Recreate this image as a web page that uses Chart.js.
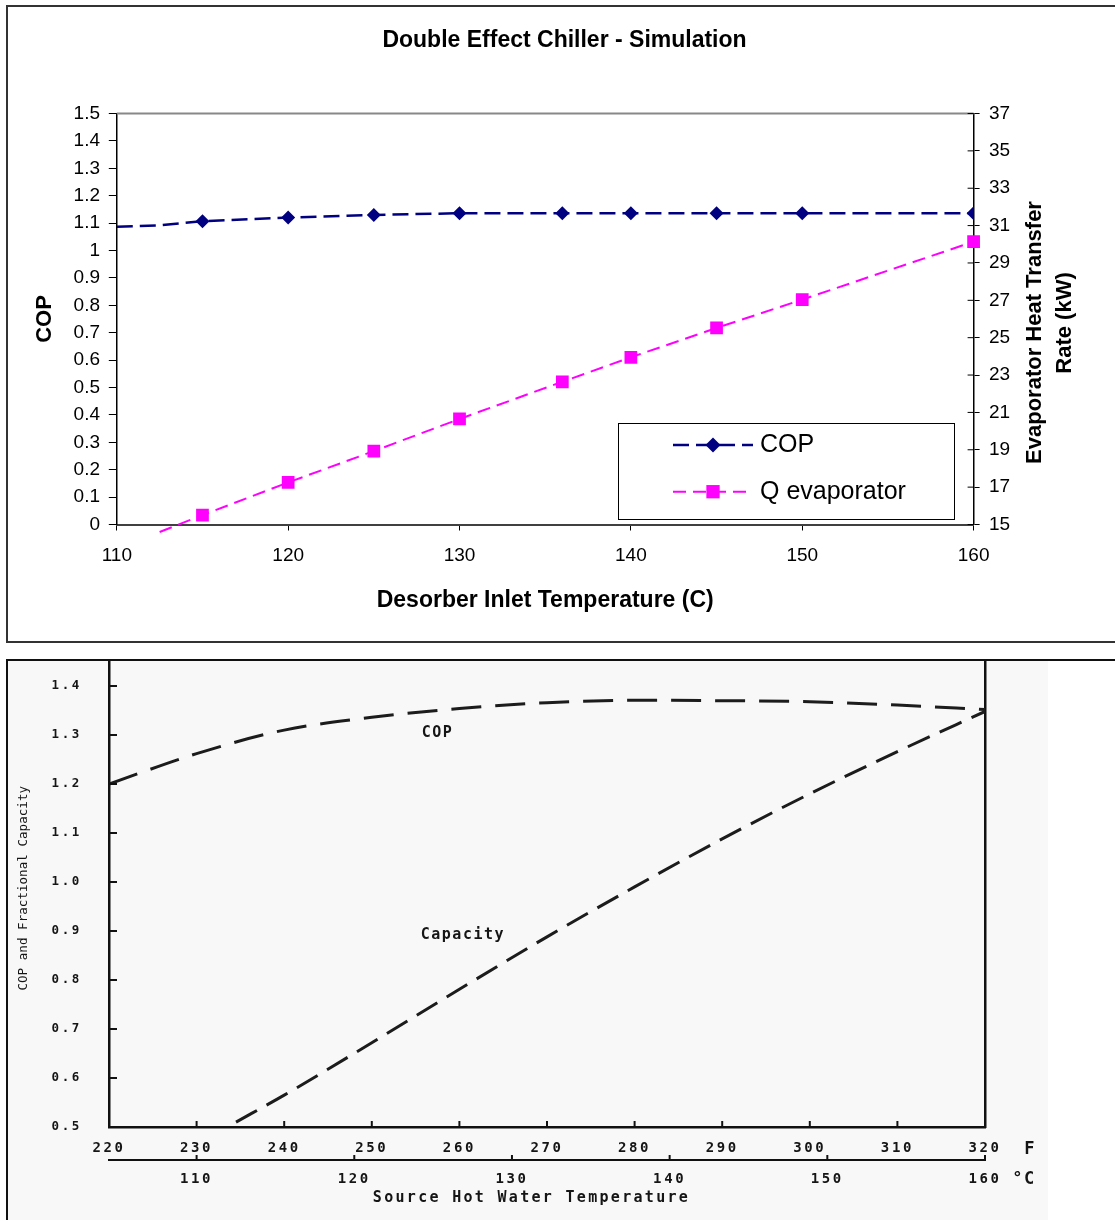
<!DOCTYPE html>
<html>
<head>
<meta charset="utf-8">
<title>Double Effect Chiller</title>
<script src="https://cdn.jsdelivr.net/npm/chart.js@4.4.1/dist/chart.umd.min.js"></script>
<style>
  html, body { margin:0; padding:0; background:#fff; }
  body { width:1115px; height:1220px; position:relative; overflow:hidden; }
  .frame { position:absolute; box-sizing:border-box; }
  #frameTop { left:6px; top:5px; width:1200px; height:638px; border:2px solid #333; }
  #frameBot { left:6px; top:659px; width:1200px; height:600px; border-left:2px solid #111; border-top:2px solid #111; }
  #scan { position:absolute; left:8px; top:661px; width:1040px; height:559px; background:#f8f8f8; }
  canvas { position:absolute; left:0; }
  #simChart { top:0; }
  #refChart { top:650px; }
</style>
</head>
<body>
<div class="frame" id="frameTop"></div>
<div id="scan"></div>
<div class="frame" id="frameBot"></div>
<canvas id="simChart" width="1129" height="650"></canvas>
<canvas id="refChart" width="1115" height="570"></canvas>
<script>
// ---- data: simulation chart (top) ----
const desorberTemp = [110, 112.5, 115, 120, 125, 130, 136, 140, 145, 150, 160];
const copSim       = [1.087, 1.092, 1.107, 1.12, 1.13, 1.136, 1.136, 1.136, 1.136, 1.136, 1.136];
const qEvap        = [null, 14.6, 15.5, 17.25, 18.93, 20.65, 22.64, 23.95, 25.52, 27.04, 30.14];
const tempTicks = [110, 120, 130, 140, 150, 160];
const copTicks  = [0, 0.1, 0.2, 0.3, 0.4, 0.5, 0.6, 0.7, 0.8, 0.9, 1, 1.1, 1.2, 1.3, 1.4, 1.5];
const qTicks    = [15, 17, 19, 21, 23, 25, 27, 29, 31, 33, 35, 37];
const markerStart = 115; // first simulated point that carries a marker

// ---- data: scanned reference chart (bottom) ----
const fahrenheit = [220, 230, 240, 250, 260, 270, 280, 290, 300, 310, 320];
const copRef     = [1.20, 1.262, 1.31, 1.336, 1.354, 1.366, 1.371, 1.370, 1.368, 1.361, 1.352];
const capacityF  = [234.5, 240, 250, 260, 270, 280, 290, 300, 310, 320];
const capacity   = [0.51, 0.565, 0.672, 0.781, 0.888, 0.99, 1.088, 1.18, 1.266, 1.348];
const fahrenheitTicks = [220, 230, 240, 250, 260, 270, 280, 290, 300, 310, 320];
const celsiusTicks    = [110, 120, 130, 140, 150, 160];
const copRefTicks     = [0.5, 0.6, 0.7, 0.8, 0.9, 1.0, 1.1, 1.2, 1.3, 1.4];

const SANS = "'Liberation Sans', Arial, sans-serif";
const MONO = "'DejaVu Sans Mono', monospace";

const pts = (xs, ys) => xs.map((x, i) => ({x, y: ys[i]}));
const useTicks = list => s => { s.ticks = list.map(v => ({value: v})); };
const hideEarly = r => c => (c.raw && c.raw.x < markerStart) ? 0 : r;

// small tick stubs drawn into the plot area (the library only draws outward)
const innerTicks = {
  id: 'innerTicks',
  afterDatasetsDraw(chart, args, o) {
    const ctx = chart.ctx;
    ctx.save();
    ctx.strokeStyle = o.color; ctx.lineWidth = o.width;
    (o.axes || []).forEach(a => {
      const s = chart.scales[a.id];
      s.ticks.forEach(t => {
        const p = s.getPixelForValue(t.value);
        ctx.beginPath();
        if (s.isHorizontal()) { ctx.moveTo(p, s.top); ctx.lineTo(p, s.top - a.len); }
        else if (s.position === 'left') { ctx.moveTo(s.right, p); ctx.lineTo(s.right + a.len, p); }
        else { ctx.moveTo(s.left, p); ctx.lineTo(s.left - a.len, p); }
        ctx.stroke();
      });
    });
    ctx.restore();
  }
};

const plotTop = {
  id: 'plotTop',
  beforeDatasetsDraw(chart, args, o) {
    const {ctx, chartArea: a} = chart;
    ctx.save();
    ctx.strokeStyle = o.color; ctx.lineWidth = o.width;
    ctx.beginPath(); ctx.moveTo(a.left, a.top); ctx.lineTo(a.right, a.top); ctx.stroke();
    ctx.restore();
  }
};

// right axis title reads bottom-to-top like the left one
const rightTitle = {
  id: 'rightTitle',
  afterDraw(chart, args, o) {
    const s = chart.scales[o.axis], a = chart.chartArea, ctx = chart.ctx;
    ctx.save();
    ctx.font = o.font; ctx.fillStyle = '#000';
    ctx.textAlign = 'center'; ctx.textBaseline = 'middle';
    o.lines.forEach((line, i) => {
      ctx.save();
      ctx.translate(s.left + o.dx[i], (a.top + a.bottom) / 2 + o.dy[i]);
      ctx.rotate(-Math.PI / 2);
      ctx.fillText(line, 0, 0);
      ctx.restore();
    });
    ctx.restore();
  }
};

function marker(ctx, style, r, x, y) {
  ctx.beginPath();
  if (style === 'rectRot') {
    ctx.moveTo(x, y - r); ctx.lineTo(x + r, y); ctx.lineTo(x, y + r); ctx.lineTo(x - r, y); ctx.closePath();
  } else {
    const h = r * Math.SQRT1_2;
    ctx.rect(x - h, y - h, 2 * h, 2 * h);
  }
  ctx.fill();
}

// boxed legend with dashed line + marker, excel style
const simLegend = {
  id: 'simLegend',
  afterDraw(chart, args, o) {
    const {ctx, chartArea: a} = chart;
    const x0 = a.right - o.right - o.width, y0 = a.bottom - o.bottom - o.height;
    ctx.save();
    ctx.fillStyle = '#fff'; ctx.fillRect(x0, y0, o.width, o.height);
    ctx.strokeStyle = '#000'; ctx.lineWidth = 1;
    ctx.strokeRect(Math.round(x0) + 0.5, Math.round(y0) + 0.5, o.width, o.height);
    chart.data.datasets.forEach((ds, i) => {
      const y = y0 + o.rowTop + i * o.rowGap;
      ctx.save();
      ctx.strokeStyle = ds.borderColor; ctx.lineWidth = ds.borderWidth;
      ctx.setLineDash(ds.borderDash);
      ctx.beginPath(); ctx.moveTo(x0 + o.lineFrom, y); ctx.lineTo(x0 + o.lineTo, y); ctx.stroke();
      ctx.fillStyle = ds.backgroundColor;
      marker(ctx, ds.pointStyle, o.radius[i], x0 + (o.lineFrom + o.lineTo) / 2, y);
      ctx.restore();
      ctx.fillStyle = '#000'; ctx.font = o.font;
      ctx.textAlign = 'left'; ctx.textBaseline = 'middle';
      ctx.fillText(ds.label, x0 + o.textX, y);
    });
    ctx.restore();
  }
};

new Chart(document.getElementById('simChart'), {
  type: 'line',
  data: {
    datasets: [
      { label: 'COP', data: pts(desorberTemp, copSim), yAxisID: 'y',
        borderColor: '#000080', backgroundColor: '#000080', borderWidth: 2.5, borderDash: [16, 7],
        pointStyle: 'rectRot', pointRadius: hideEarly(7), pointBorderWidth: 0, tension: 0 },
      { label: 'Q evaporator', data: pts(desorberTemp, qEvap), yAxisID: 'y2',
        borderColor: '#ff00ff', backgroundColor: '#ff00ff', borderWidth: 2, borderDash: [13, 7],
        pointStyle: 'rect', pointRadius: hideEarly(9), pointBorderWidth: 0, tension: 0,
        clip: {left: 12, top: 12, right: 12, bottom: 12} }
    ]
  },
  options: {
    responsive: false, animation: false, devicePixelRatio: 1,
    layout: { padding: 0 },
    plugins: {
      legend: { display: false },
      tooltip: { enabled: false },
      title: { display: true, text: 'Double Effect Chiller - Simulation', color: '#000',
               font: { family: SANS, size: 23, weight: 'bold' }, padding: { top: 26.5, bottom: 59.4 } },
      plotTop: { color: '#888', width: 2 },
      innerTicks: { color: '#000', width: 1, axes: [{ id: 'y2', len: 6 }] },
      rightTitle: { axis: 'y2', font: 'bold 22px ' + SANS,
                    lines: ['Evaporator Heat Transfer', 'Rate (kW)'], dx: [61.4, 91.4], dy: [13.5, 4] },
      simLegend: { right: 19.6, bottom: 5.2, width: 336, height: 96, rowTop: 21.7, rowGap: 46.7,
                   lineFrom: 55, lineTo: 135, textX: 142, radius: [7.5, 9.4], font: '25px ' + SANS }
    },
    scales: {
      x: {
        type: 'linear', min: 110, max: 160,
        afterBuildTicks: useTicks(tempTicks),
        afterFit: s => { s.height = 125.5; },
        ticks: { color: '#000', font: { family: SANS, size: 19 }, padding: 14.1, maxRotation: 0, callback: v => String(v) },
        grid: { drawOnChartArea: false, tickLength: 6, color: '#000', lineWidth: 1 },
        border: { color: '#404040', width: 2 },
        title: { display: true, text: 'Desorber Inlet Temperature (C)', color: '#000',
                 font: { family: SANS, size: 23, weight: 'bold' }, padding: { top: 0, bottom: 36 } }
      },
      y: {
        position: 'left', min: 0, max: 1.5,
        afterBuildTicks: useTicks(copTicks),
        afterFit: s => { s.width = 116.8; },
        ticks: { color: '#000', font: { family: SANS, size: 19 }, padding: 8.8, callback: v => String(Math.round(v * 10) / 10) },
        grid: { drawOnChartArea: false, tickLength: 8, color: '#000', lineWidth: 1 },
        border: { color: '#000', width: 1.5 },
        title: { display: true, text: 'COP', color: '#000',
                 font: { family: SANS, size: 22, weight: 'bold' }, padding: { top: 31.4, bottom: 0 } }
      },
      y2: {
        position: 'right', min: 15, max: 37,
        afterBuildTicks: useTicks(qTicks),
        afterFit: s => { s.width = 155.4; },
        ticks: { color: '#000', font: { family: SANS, size: 19 }, padding: 9.4, callback: v => String(v) },
        grid: { drawOnChartArea: false, tickLength: 6, color: '#000', lineWidth: 1 },
        border: { color: '#000', width: 1.5 }
      }
    }
  },
  plugins: [plotTop, innerTicks, rightTitle, simLegend]
});

// ---- bottom: scanned chart look-alike ----
const spacing = {
  id: 'spacing',
  beforeDraw(chart, args, o) { chart.ctx.letterSpacing = o.value; },
  afterDraw(chart) { chart.ctx.letterSpacing = '0px'; }
};

const scanText = {
  id: 'scanText',
  afterDraw(chart, args, o) {
    const ctx = chart.ctx, a = chart.chartArea, sx = chart.scales.xf, sy = chart.scales.y, sc = chart.scales.xc;
    ctx.save();
    ctx.fillStyle = '#151515';
    ctx.textAlign = 'center'; ctx.textBaseline = 'middle';
    ctx.letterSpacing = '1.5px';
    ctx.font = 'bold 15px ' + MONO;
    o.curveLabels.forEach(l => ctx.fillText(l.text, sx.getPixelForValue(l.at[0]), sy.getPixelForValue(l.at[1])));
    ctx.font = 'bold 17px ' + MONO;
    ctx.fillText('F', sx.right + 45, sx.top + 23);
    ctx.fillText('°C', sc.right + 39, sc.top + 20);
    ctx.font = 'bold 15px ' + MONO;
    ctx.letterSpacing = '2.3px';
    ctx.fillText(o.xTitle, (a.left + a.right) / 2 - 15.5, sc.bottom - 22);
    ctx.letterSpacing = '0px';
    ctx.font = '12.6px ' + MONO;
    ctx.save();
    ctx.translate(24, (a.top + a.bottom) / 2 - 6);
    ctx.rotate(-Math.PI / 2);
    ctx.fillText(o.yTitle, 0, 0);
    ctx.restore();
    ctx.restore();
  }
};

const monoTick = size => ({ family: MONO, size, weight: 'bold' });

new Chart(document.getElementById('refChart'), {
  type: 'line',
  data: {
    datasets: [
      { label: 'COP', data: pts(fahrenheit, copRef), xAxisID: 'xf', yAxisID: 'y',
        borderColor: '#1c1c1c', borderWidth: 3, borderDash: [30, 14], pointRadius: 0,
        cubicInterpolationMode: 'monotone' },
      { label: 'Capacity', data: pts(capacityF, capacity), xAxisID: 'xf', yAxisID: 'y',
        borderColor: '#1c1c1c', borderWidth: 3, borderDash: [24, 11], pointRadius: 0,
        cubicInterpolationMode: 'monotone' }
    ]
  },
  options: {
    responsive: false, animation: false, devicePixelRatio: 1,
    layout: { padding: { top: 11.5, left: 0, right: 0, bottom: 0 } },
    plugins: {
      legend: { display: false },
      tooltip: { enabled: false },
      spacing: { value: '2.6px' },
      innerTicks: { color: '#111', width: 2,
                    axes: [{ id: 'y', len: 8 }, { id: 'xf', len: 6 }, { id: 'xc', len: 5 }] },
      scanText: {
        curveLabels: [{ text: 'COP', at: [257.5, 1.304] }, { text: 'Capacity', at: [260.4, 0.892] }],
        xTitle: 'Source Hot Water Temperature',
        yTitle: 'COP and Fractional Capacity'
      }
    },
    scales: {
      xf: {
        type: 'linear', position: 'bottom', weight: 0, min: 220, max: 320,
        afterBuildTicks: useTicks(fahrenheitTicks),
        afterFit: s => { s.height = 33; },
        ticks: { color: '#151515', font: monoTick(14), padding: 12.6, maxRotation: 0, autoSkip: false, callback: v => String(v) },
        grid: { drawOnChartArea: false, drawTicks: false },
        border: { color: '#111', width: 2.5 }
      },
      xc: {
        type: 'linear', position: 'bottom', weight: 1, min: (220 - 32) * 5 / 9, max: 160,
        afterBuildTicks: useTicks(celsiusTicks),
        afterFit: s => { s.height = 60; },
        ticks: { color: '#151515', font: monoTick(14), padding: 10.6, maxRotation: 0, autoSkip: false, callback: v => String(v) },
        grid: { drawOnChartArea: false, drawTicks: false },
        border: { color: '#111', width: 2 }
      },
      y: {
        position: 'left', min: 0.5, max: 1.45,
        afterBuildTicks: useTicks(copRefTicks),
        afterFit: s => { s.width = 109; },
        // label gap comes from an invisible tick so it does not add vertical padding
        ticks: { color: '#151515', font: monoTick(12.5), padding: 0, callback: v => v.toFixed(1) },
        grid: { drawOnChartArea: false, drawTicks: true, tickLength: 27, tickColor: 'rgba(0,0,0,0)' },
        border: { color: '#111', width: 2.5 }
      },
      yr: {
        position: 'right', min: 0.5, max: 1.45,
        afterFit: s => { s.width = 130; },
        ticks: { display: false },
        grid: { drawOnChartArea: false, drawTicks: false },
        border: { color: '#111', width: 2.5 }
      }
    }
  },
  plugins: [spacing, innerTicks, scanText]
});
</script>
</body>
</html>
